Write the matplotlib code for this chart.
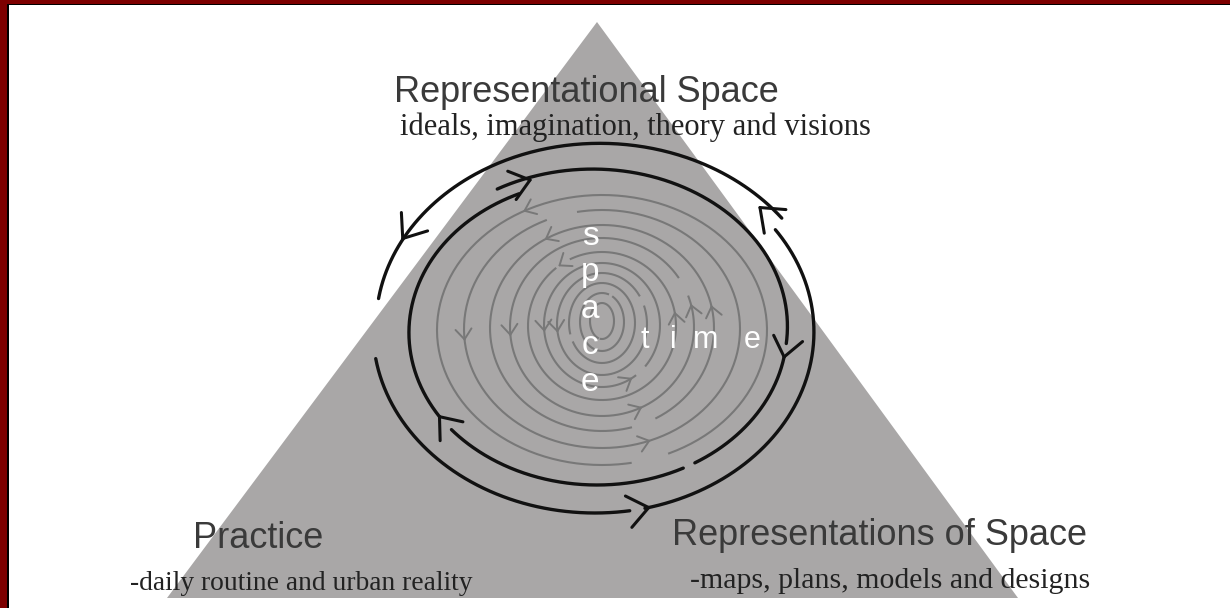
import numpy as np
import matplotlib.pyplot as plt
from matplotlib.patches import Polygon, Rectangle

W, H = 1230, 608

# --- text content -------------------------------------------------------
HEADINGS = ["Representational Space", "Practice", "Representations of Space"]
SUBTITLES = [
    "ideals, imagination, theory and visions",
    "-daily routine and urban reality",
    "-maps, plans, models and designs",
]
SPACE_LETTERS = ["s", "p", "a", "c", "e"]
TIME_LETTERS = ["t", "i", "m", "e"]

# --- geometry (pixel units) ----------------------------------------------
TRIANGLE = [(597, 22), (167, 598), (1018, 598)]

# outer black ring (flows anticlockwise on screen)
OUTER = (595, 330, 222, 183)
OUTER_SEGMENTS = [(36, 170, 1.04, 0.99), (189, 279, 1.0, 1.0), (283, 394, 1.0, 0.98)]
OUTER_ARROWS = [42, 150, 284]

# inner black ring (flows clockwise on screen)
INNER = (597, 330, 190, 155)
INNER_SEGMENTS = [(120, -5, 1.05, 1.0), (-10, -59, 1.0, 1.0),
                  (-63, -140, 1.0, 1.0), (-146, -245, 1.0, 0.97)]
INNER_ARROWS = [110, -10, -146]

# grey maze rings
GRAY_A = [165, 138, 112, 92, 74, 58, 45, 33, 22, 12]
GRAY_B = [135, 119, 103, 89, 74, 62, 51, 40, 29, 18]
GRAY_CY = [330, 329, 328, 327, 326, 325, 324, 323, 322, 321]
GRAY_GAP = [-80, 100, -75, 20, 115, -55, 20, 195, 60, 250]
GRAY_ARROWS = [(1, 185), (3, 185), (5, 185), (6, 188), (2, 12), (3, 14), (4, 10),
               (0, 118), (2, 120), (4, 125), (1, -70), (3, -65), (5, -60)]

GRAY_CX = 602
TRI_COLOR = "#a9a7a7"
RING_GRAY = "#787878"


def arc(cx, cy, a, b, t0, t1, s0=1.0, s1=1.0, n=240):
    t = np.radians(np.linspace(t0, t1, n))
    s = np.linspace(s0, s1, n)
    return cx + a * s * np.cos(t), cy - b * s * np.sin(t)


def chevron(ax, ring, t, direction, length, color, lw, scale=1.0, spread=38):
    cx, cy, a, b = ring
    tr = np.radians(t)
    x = cx + a * scale * np.cos(tr)
    y = cy - b * scale * np.sin(tr)
    dx = -a * np.sin(tr) * direction
    dy = -b * np.cos(tr) * direction
    n = np.hypot(dx, dy)
    dx, dy = dx / n, dy / n
    for sgn in (1, -1):
        ang = np.radians(spread * sgn)
        bx = -(dx * np.cos(ang) - dy * np.sin(ang))
        by = -(dx * np.sin(ang) + dy * np.cos(ang))
        ax.plot([x, x + length * bx], [y, y + length * by], color=color, lw=lw,
                solid_capstyle="round")


fig = plt.figure(figsize=(W / 100, H / 100), dpi=100)
ax = fig.add_axes([0, 0, 1, 1])
ax.set_xlim(0, W)
ax.set_ylim(H, 0)
ax.axis("off")

# frame strips (top and left only)
ax.add_patch(Rectangle((0, 0), W, 3.5, color="#7d0000", lw=0))
ax.add_patch(Rectangle((0, 3.5), W, 1.8, color="black", lw=0))
ax.add_patch(Rectangle((0, 0), 7, H, color="#7d0000", lw=0))
ax.add_patch(Rectangle((7, 3.5), 2, H, color="black", lw=0))

ax.add_patch(Polygon(TRIANGLE, closed=True, color=TRI_COLOR, lw=0))

# grey rings with one break each
for a, b, cy, g in zip(GRAY_A, GRAY_B, GRAY_CY, GRAY_GAP):
    xs, ys = arc(GRAY_CX, cy, a, b, g + 14, g + 360)
    ax.plot(xs, ys, color=RING_GRAY, lw=1.5)
for i, t in GRAY_ARROWS:
    ring = (GRAY_CX, GRAY_CY[i], GRAY_A[i], GRAY_B[i])
    chevron(ax, ring, t, +1, 13, RING_GRAY, 1.4)

# black rings
for t0, t1, s0, s1 in OUTER_SEGMENTS:
    xs, ys = arc(*OUTER, t0, t1, s0, s1)
    ax.plot(xs, ys, color="#111111", lw=2.4, solid_capstyle="round")
for t in OUTER_ARROWS:
    chevron(ax, OUTER, t, +1, 26, "#111111", 2.2)

for t0, t1, s0, s1 in INNER_SEGMENTS:
    xs, ys = arc(*INNER, t0, t1, s0, s1)
    ax.plot(xs, ys, color="#111111", lw=2.4, solid_capstyle="round")
for t in INNER_ARROWS:
    chevron(ax, INNER, t, -1, 24, "#111111", 2.2, scale=1.03 if t == 110 else 1.0)

# vertical "space" and horizontal "time"
for k, ch in enumerate(SPACE_LETTERS):
    ax.text(590, 245 + k * 36.5, ch, color="white", fontsize=24,
            family="Liberation Sans", ha="center", va="baseline")
for ch, x in zip(TIME_LETTERS, [645, 673, 706, 752]):
    ax.text(x, 348, ch, color="white", fontsize=22,
            family="Liberation Sans", ha="center", va="baseline")

# corner labels
head_pos = [(586, 102, "center"), (193, 548, "left"), (672, 545, "left")]
for txt, (x, y, ha) in zip(HEADINGS, head_pos):
    ax.text(x, y, txt, color="#3a3a3a", fontsize=26, family="Liberation Sans",
            ha=ha, va="baseline")

sub_pos = [(400, 135, 22), (130, 590, 19.8), (690, 588, 21.5)]
for txt, (x, y, fs) in zip(SUBTITLES, sub_pos):
    ax.text(x, y, txt, color="#222222", fontsize=fs, family="Liberation Serif",
            ha="left", va="baseline")

fig.savefig("out.png", dpi=100)
